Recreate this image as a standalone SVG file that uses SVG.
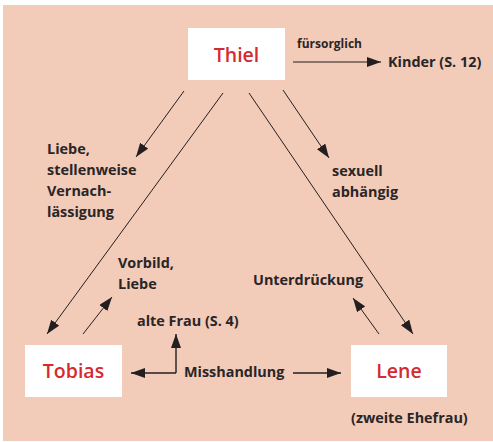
<svg xmlns="http://www.w3.org/2000/svg" width="493" height="442" viewBox="0 0 493 442">
<style>
.t{font-family:"Open Sans","Liberation Sans",sans-serif;font-weight:700;font-size:14.4px;fill:#2a2526}
.s{font-size:12px}
.n{font-family:"Open Sans","Liberation Sans",sans-serif;font-weight:600;font-size:19.5px;fill:#d42a30;text-anchor:middle}
.box{fill:#fff}
.l{stroke:#231f20;stroke-width:1;fill:none;marker-end:url(#ah)}
.h{stroke:#231f20;stroke-width:1.4;fill:none}
</style>
<defs>
<marker id="ah" markerUnits="userSpaceOnUse" markerWidth="14" markerHeight="10" viewBox="0 0 14 10" refX="14" refY="5" orient="auto">
<path d="M0,0 L14,5 L0,10 Z" fill="#231f20"/>
</marker>
</defs>
<rect x="3" y="5" width="490" height="436" fill="#f3cbb9"/>
<g id="connectors">
<line class="l" x1="293" y1="62" x2="381" y2="62"/>
<line class="l" x1="184" y1="91" x2="136" y2="157"/>
<line class="l" x1="223" y1="93" x2="47" y2="334"/>
<line class="l" x1="249" y1="93" x2="413" y2="334"/>
<line class="l" x1="283" y1="90" x2="329" y2="158"/>
<line class="l" x1="83" y1="334" x2="112" y2="297"/>
<line class="l" x1="379" y1="334" x2="353" y2="298"/>
<polyline class="h" points="176,373 176,334" marker-end="url(#ah)"/>
<polyline class="h" points="176,373 131,373" marker-end="url(#ah)"/>
<line class="h" x1="293" y1="373" x2="341" y2="373" marker-end="url(#ah)"/>
</g>
<g id="thiel"><rect class="box" x="188" y="28" width="97" height="52"/><text class="n" x="236.5" y="62">Thiel</text></g>
<g id="tobias"><rect class="box" x="25" y="345" width="97" height="52"/><text class="n" x="73.5" y="378">Tobias</text></g>
<g id="lene"><rect class="box" x="351" y="345" width="96" height="52"/><text class="n" x="399" y="378">Lene</text></g>
<g id="labels">
<text class="t s" x="297" y="48">fürsorglich</text>
<text class="t" x="388" y="67">Kinder (S. 12)</text>
<text class="t" x="47" y="154">Liebe,</text>
<text class="t" x="47" y="175">stellenweise</text>
<text class="t" x="47" y="196">Vernach-</text>
<text class="t" x="47" y="217">lässigung</text>
<text class="t" x="332" y="176">sexuell</text>
<text class="t" x="332" y="197">abhängig</text>
<text class="t" x="118" y="268">Vorbild,</text>
<text class="t" x="118" y="289">Liebe</text>
<text class="t" x="253" y="285">Unterdrückung</text>
<text class="t" x="137" y="326">alte Frau (S. 4)</text>
<text class="t" x="184" y="377">Misshandlung</text>
<text class="t" x="351" y="423">(zweite Ehefrau)</text>
</g>
</svg>
